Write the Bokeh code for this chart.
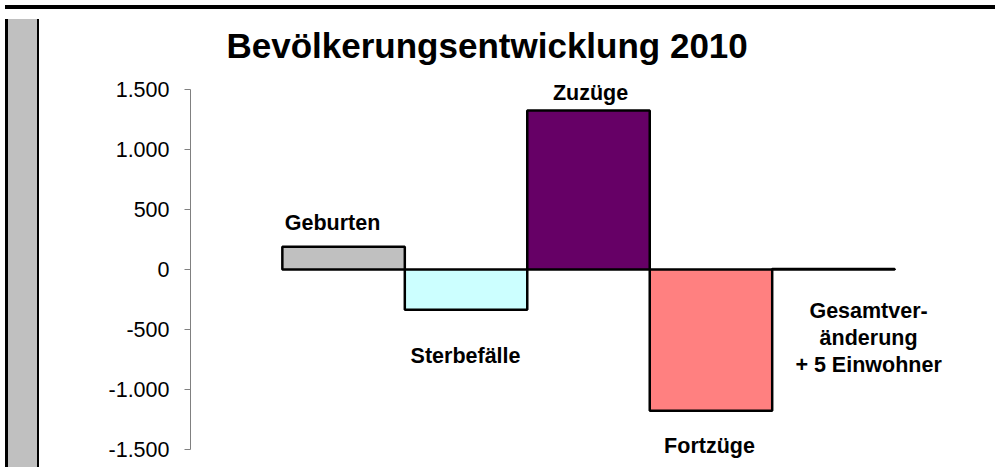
from bokeh.plotting import figure
from bokeh.models import Range1d, FixedTicker, ColumnDataSource, Div
from bokeh.layouts import row, column
from bokeh.core.properties import value
from bokeh.embed import file_html
from bokeh.resources import INLINE

# ---- data ----
categories = ["Geburten", "Sterbefälle", "Zuzüge", "Fortzüge", "Gesamtver-\nänderung\n+ 5 Einwohner"]
values = [190, -335, 1325, -1175, 5]
colors = ["#C0C0C0", "#CCFFFF", "#660066", "#FF8080", "#000000"]
tick_values = [-1500, -1000, -500, 0, 500, 1000, 1500]
tick_labels = ["-1.500", "-1.000", "-500", "0", "500", "1.000", "1.500"]
title_text = "Bevölkerungsentwicklung 2010"

FONT = "Liberation Sans"

p = figure(
    output_backend="svg", toolbar_location=None,
    x_range=Range1d(-0.75, 5.75), y_range=Range1d(-1590, 1650),
    frame_width=796, frame_height=389,
    min_border_left=146, min_border_right=8, min_border_top=57, min_border_bottom=2,
    x_axis_location=None,
)
p.outline_line_color = None
p.xgrid.visible = False
p.ygrid.visible = False
p.background_fill_color = "white"
p.border_fill_color = "white"

xs = [i + 0.5 for i in range(len(values))]
src = ColumnDataSource(dict(x=xs, top=values, bottom=[0] * len(values), color=colors))
p.vbar(x="x", top="top", bottom="bottom", width=1.0, source=src,
       fill_color="color", line_color="black", line_width=2.5)

# y axis
ax = p.yaxis[0]
ax.bounds = (tick_values[0], tick_values[-1])
ax.ticker = FixedTicker(ticks=tick_values, minor_ticks=[])
ax.major_label_overrides = {v: l for v, l in zip(tick_values, tick_labels)}
ax.axis_line_color = "#808080"
ax.major_tick_line_color = "#808080"
ax.major_tick_in = 0
ax.major_tick_out = 6
ax.minor_tick_line_color = None
ax.major_label_text_font = FONT
ax.major_label_text_font_size = "21.5px"
ax.major_label_text_color = "black"
ax.major_label_standoff = 15

# category labels (positions set here, separate from data)
label_x = [0.41, 1.496, 2.517, 3.488, 4.787]
label_y = [392, -717, 1475, -1467, -567]
lsrc = ColumnDataSource(dict(x=label_x, y=label_y, t=categories))
p.text(x="x", y="y", text="t", source=lsrc, text_font=value(FONT),
       text_font_size="21.5px", text_font_style="bold", text_align="center",
       text_baseline="middle", text_line_height=1.12, text_color="black")

# title
p.title.text = title_text
p.title.text_font = FONT
p.title.text_font_size = "35px"
p.title.text_font_style = "bold"
p.title.align = "left"
p.title.offset = 36
p.title.standoff = 13
p.title.text_color = "black"

top_band = Div(width=990, height=4, text="",
               styles={"background-color": "black"})
strip = Div(width=34, height=448, text="",
            styles={"background-color": "#C0C0C0", "border-right": "2px solid black",
                    "border-left": "3px solid black", "box-sizing": "border-box"})

layout = column(top_band, row(strip, p, spacing=0), spacing=0)
open("out.html", "w").write(file_html(layout, INLINE))
